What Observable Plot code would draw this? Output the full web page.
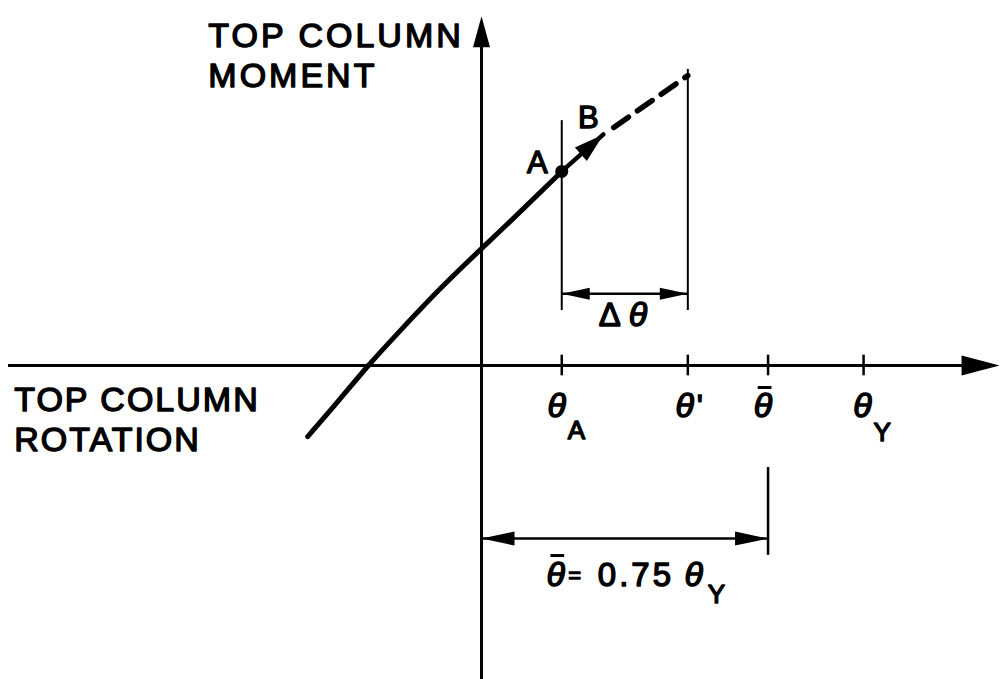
<!DOCTYPE html>
<html>
<head>
<meta charset="utf-8">
<script src="https://cdn.jsdelivr.net/npm/d3@7"></script>
<script src="https://cdn.jsdelivr.net/npm/@observablehq/plot@0.6"></script>
<style>
  html, body { margin: 0; padding: 0; background: #fff; }
  #chart { width: 1001px; height: 679px; }
</style>
</head>
<body>
<div id="chart"></div>
<script>
// Rotations are given as fractions of the yield rotation θY; moments share the same unit length.
const thetaA = 0.21;     // current rotation at point A
const thetaPrime = 0.54; // rotation after the increment Δθ
const thetaBar = 0.75;   // target rotation, θ̄ = 0.75 θY
const thetaY = 1.0;      // yield rotation

// Moment–rotation path of the top column up to point A
const curveRotation = [-0.455, -0.374, -0.296, -0.212, -0.107, 0.0, 0.105, 0.21];
const curveMoment   = [-0.186, -0.092, 0.0, 0.092, 0.202, 0.306, 0.406, 0.508];

// Tangent step from A to B, and its dashed extension to θ'
const stepRotation = [0.21, 0.319];
const stepMoment   = [0.508, 0.605];
const extRotation  = [0.346, thetaPrime];
const extMoment    = [0.623, 0.759];

const tickValues = [thetaA, thetaPrime, thetaBar, thetaY];

const curve = curveRotation.map((x, i) => ({x, y: curveMoment[i]}));
const ext = extRotation.map((x, i) => ({x, y: extMoment[i]}));
const pointA = {x: stepRotation[0], y: stepMoment[0]};
const pointB = {x: stepRotation[1], y: stepMoment[1]};

// extents of the drawing frame
const xDomain = [-1.259, 1.361];
const yDomain = [-0.822, 0.9555];

// filled arrowhead drawn with its tip at the dot position
function head(dx, dy, len, wid) {
  const n = Math.hypot(dx, dy), ux = dx / n, uy = dy / n, px = -uy, py = ux;
  return {
    draw(ctx) {
      const bx = -ux * len, by = -uy * len;
      ctx.moveTo(0, 0);
      ctx.lineTo(bx + px * wid / 2, by + py * wid / 2);
      ctx.lineTo(bx - px * wid / 2, by - py * wid / 2);
      ctx.closePath();
    }
  };
}

const FONT = "Liberation Sans, Arial, Helvetica, sans-serif";
const ink = "#000";
const txt = (data, o) => Plot.text(data, {fontFamily: FONT, fill: ink, stroke: ink, strokeWidth: 1.4, lineAnchor: "bottom", ...o});
const theta = (data, o) => txt(data, {text: () => "θ", fontStyle: "italic", fontSize: 34, textAnchor: "middle", ...o});
// the overbar of θ̄, a short stroke centred on x
const overbar = (x, y, o) => Plot.ruleY([{x, y}], {y: "y", x1: d => d.x - 0.018, x2: d => d.x + 0.018, stroke: ink, strokeWidth: 3, ...o});

const midDelta = (thetaA + thetaPrime) / 2;
const midBar = thetaBar / 2;
const deltaY = 0.188;
const barY = -0.453;

const chart = Plot.plot({
  width: 1001,
  height: 679,
  margin: 0,
  style: {background: "#fff"},
  x: {domain: xDomain, axis: null},
  y: {domain: yDomain, axis: null},
  marks: [
    // axes
    Plot.ruleY([0], {x1: xDomain[0] + 0.021, x2: 1.259, stroke: ink, strokeWidth: 3}),
    Plot.ruleX([0], {y1: yDomain[0], y2: 0.835, stroke: ink, strokeWidth: 3}),
    Plot.dot([{x: 1.356, y: 0}], {x: "x", y: "y", symbol: head(1, 0, 38, 20), fill: ink, stroke: "none"}),
    Plot.dot([{x: 0, y: 0.914}], {x: "x", y: "y", symbol: head(0, -1, 31, 17), fill: ink, stroke: "none"}),

    // tick marks on the rotation axis
    Plot.ruleX(tickValues, {y1: -0.027, y2: 0.027, stroke: ink, strokeWidth: 2.5}),

    // extension lines
    Plot.ruleX([thetaA], {y1: 0.144, y2: 0.641, stroke: ink, strokeWidth: 2}),
    Plot.ruleX([thetaPrime], {y1: 0.144, y2: 0.775, stroke: ink, strokeWidth: 2}),
    Plot.ruleX([thetaBar], {y1: -0.497, y2: -0.267, stroke: ink, strokeWidth: 2.5}),

    // Δθ dimension
    Plot.ruleY([deltaY], {x1: thetaA, x2: thetaPrime, stroke: ink, strokeWidth: 2.5}),
    Plot.dot([{x: thetaA, y: deltaY}], {x: "x", y: "y", symbol: head(-1, 0, 28, 12), fill: ink, stroke: "none"}),
    Plot.dot([{x: thetaPrime, y: deltaY}], {x: "x", y: "y", symbol: head(1, 0, 28, 12), fill: ink, stroke: "none"}),

    // θ̄ dimension
    Plot.ruleY([barY], {x1: 0, x2: thetaBar, stroke: ink, strokeWidth: 2.5}),
    Plot.dot([{x: 0, y: barY}], {x: "x", y: "y", symbol: head(-1, 0, 33, 14), fill: ink, stroke: "none"}),
    Plot.dot([{x: thetaBar, y: barY}], {x: "x", y: "y", symbol: head(1, 0, 33, 14), fill: ink, stroke: "none"}),

    // moment–rotation curve, step A→B and dashed extension
    Plot.line(curve, {x: "x", y: "y", curve: "natural", stroke: ink, strokeWidth: 5, strokeLinecap: "round"}),
    Plot.line([pointA, pointB], {x: "x", y: "y", stroke: ink, strokeWidth: 4.5}),
    Plot.dot([pointB], {x: "x", y: "y", symbol: head(42, -37, 30, 18), fill: ink, stroke: "none"}),
    Plot.line(ext, {x: "x", y: "y", stroke: ink, strokeWidth: 5.5, strokeDasharray: "18,11"}),
    Plot.dot([pointA], {x: "x", y: "y", r: 6.5, fill: ink, stroke: "none"}),

    // point labels
    txt([pointA], {x: "x", y: "y", text: () => "A", fontSize: 31, textAnchor: "end", dx: -14, dy: 2}),
    txt([pointB], {x: "x", y: "y", text: () => "B", fontSize: 31, textAnchor: "middle", dx: -15, dy: -6}),

    // axis titles
    txt([{x: -0.715, y: 0.728}], {x: "x", y: "y", text: () => "TOP COLUMN\nMOMENT", fontSize: 34, lineHeight: 1.2, textAnchor: "start"}),
    txt([{x: -1.223, y: -0.225}], {x: "x", y: "y", text: () => "TOP COLUMN\nROTATION", fontSize: 34, lineHeight: 1.18, textAnchor: "start"}),

    // tick labels
    theta([thetaA], {x: d => d, y: 0, dx: -5, dy: 52}),
    txt([thetaA], {x: d => d, y: 0, text: () => "A", fontSize: 26, textAnchor: "start", dx: 6, dy: 74}),
    theta([thetaPrime], {x: d => d, y: 0, dx: -3, dy: 52}),
    txt([thetaPrime], {x: d => d, y: 0, text: () => "'", fontSize: 32, textAnchor: "start", dx: 9, dy: 52}),
    theta([thetaBar], {x: d => d, y: 0, dx: -5, dy: 52}),
    overbar(thetaBar, 0, {dx: -3, dy: 22}),
    theta([thetaY], {x: d => d, y: 0, dx: -1, dy: 52}),
    txt([thetaY], {x: d => d, y: 0, text: () => "Y", fontSize: 26, textAnchor: "start", dx: 10, dy: 76}),

    // Δθ label
    txt([midDelta], {x: d => d, y: deltaY, text: () => "Δ", fontSize: 33, textAnchor: "end", dx: -4, dy: 32}),
    theta([midDelta], {x: d => d, y: deltaY, textAnchor: "start", dx: 4, dy: 32}),

    // θ̄ = 0.75 θY label
    theta([midBar], {x: d => d, y: barY, dx: -69, dy: 47}),
    overbar(midBar, barY, {dx: -67, dy: 17}),
    txt([midBar], {x: d => d, y: barY, text: () => "=", fontSize: 22, textAnchor: "middle", dx: -50, dy: 44}),
    txt([midBar], {x: d => d, y: barY, text: () => "0.75", fontSize: 33, textAnchor: "start", dx: -27, dy: 47}),
    theta([midBar], {x: d => d, y: barY, dx: 69, dy: 47}),
    txt([midBar], {x: d => d, y: barY, text: () => "Y", fontSize: 26, textAnchor: "start", dx: 83, dy: 64})
  ]
});

document.getElementById("chart").appendChild(chart);
// wider lettering on the axis titles and the factor
const texts = d3.select(chart).selectAll("text");
texts.filter(function () { return this.textContent.startsWith("TOP COLUMN") && this.textContent.includes("MOMENT"); })
  .style("letter-spacing", "3px");
texts.filter(function () { return this.textContent.startsWith("TOP COLUMN") && this.textContent.includes("ROTATION"); })
  .style("letter-spacing", "2px");
texts.filter(function () { return this.textContent === "0.75"; })
  .style("letter-spacing", "3px");
</script>
</body>
</html>
